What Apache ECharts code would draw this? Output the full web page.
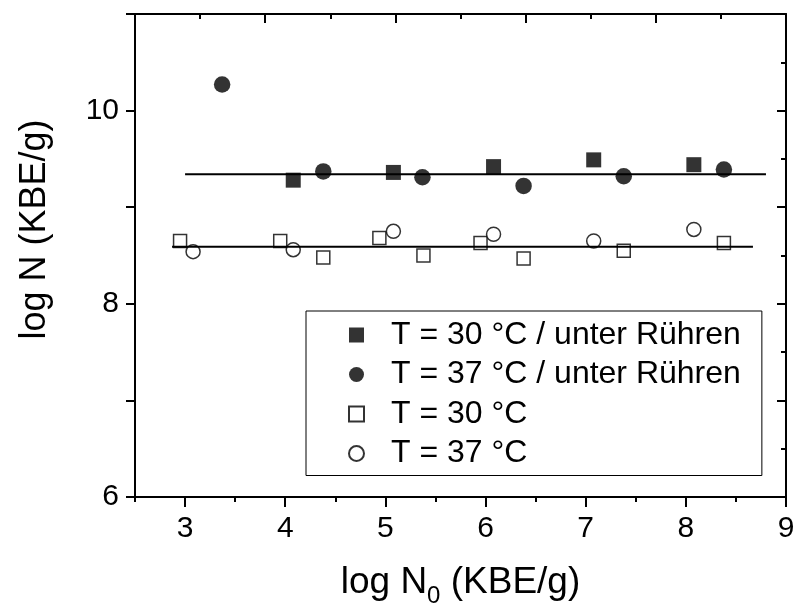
<!DOCTYPE html>
<html>
<head>
<meta charset="utf-8">
<script src="https://cdn.jsdelivr.net/npm/echarts@6/dist/echarts.min.js"></script>
<style>
  html, body { margin: 0; padding: 0; background: #fff; }
  #chart { width: 795px; height: 608px; }
</style>
</head>
<body>
<div id="chart"></div>
<script>
var FONT = "'Liberation Sans', Arial, sans-serif";

// T = 30 °C / unter Rühren (filled squares)
var stir30X = [4.08, 5.08, 6.08, 7.08, 8.08];
var stir30Y = [9.28, 9.36, 9.42, 9.49, 9.44];
// T = 37 °C / unter Rühren (filled circles)
var stir37X = [3.37, 4.38, 5.37, 6.38, 7.38, 8.38];
var stir37Y = [10.27, 9.37, 9.31, 9.22, 9.32, 9.39];
// T = 30 °C (open squares)
var plain30X = [2.95, 3.95, 4.38, 4.94, 5.38, 5.95, 6.38, 7.38, 8.38];
var plain30Y = [8.65, 8.65, 8.48, 8.68, 8.50, 8.63, 8.47, 8.55, 8.63];
// T = 37 °C (open circles)
var plain37X = [3.08, 4.08, 5.08, 6.08, 7.08, 8.08];
var plain37Y = [8.54, 8.56, 8.75, 8.72, 8.65, 8.77];

// mean lines
var meanStirX = [3.0, 8.8];
var meanStirY = [9.34, 9.34];
var meanPlainX = [2.87, 8.67];
var meanPlainY = [8.59, 8.59];

var seriesNames = ['T = 30 °C / unter Rühren', 'T = 37 °C / unter Rühren', 'T = 30 °C', 'T = 37 °C'];
var legendIcons = ['rect', 'circle', 'rect', 'circle'];
var xLabelValues = [3, 4, 5, 6, 7, 8, 9];
var yLabelValues = [6, 8, 10];

function pairs(xs, ys) {
	var out = [];
	for (var i = 0; i < xs.length; i++) {
		out.push([xs[i], ys[i]]);
	}
	return out;
}

var legendData = seriesNames.map(function (n, i) {
	return { name: n, icon: legendIcons[i] };
});

var myChart = echarts.init(document.getElementById('chart'));

var black = { color: '#000', width: 2 };
var openStyle = { color: '#fff', borderColor: '#000', borderWidth: 1.5 };

var option = {
	animation: false,
	backgroundColor: '#fff',
	grid: { left: 135, right: 9, top: 14, bottom: 111, outerBoundsMode: 'none' },
	legend: {
		orient: 'vertical',
		left: 306,
		top: 311,
		padding: [8, 21, 6, 42],
		itemGap: 7.5,
		itemWidth: 15,
		itemHeight: 15,
		borderColor: '#000',
		borderWidth: 1,
		textStyle: { fontSize: 32, color: '#000', fontFamily: FONT, lineHeight: 30, padding: [0, 0, 0, 22] },
		data: legendData
	},
	xAxis: [{
		type: 'value',
		position: 'bottom',
		min: 2.5,
		max: 9,
		interval: 0.5,
		axisLine: { onZero: false, lineStyle: black },
		axisTick: { length: 10, lineStyle: black, customValues: xLabelValues },
		axisLabel: { customValues: xLabelValues, fontSize: 30, color: '#000', fontFamily: FONT, margin: 17 },
		splitLine: { show: false },
		name: 'log N{sub|0} (KBE/g)',
		nameLocation: 'middle',
		nameGap: 61,
		nameTextStyle: {
			fontSize: 37, color: '#000', fontFamily: FONT,
			rich: { sub: { fontSize: 24, color: '#000', fontFamily: FONT, padding: [26, 0, 0, 0] } }
		}
	}, {
		type: 'value',
		position: 'bottom',
		min: 2.5,
		max: 9,
		interval: 0.5,
		axisLine: { show: false, onZero: false },
		axisTick: { length: 5, lineStyle: black },
		axisLabel: { show: false },
		splitLine: { show: false }
	}, {
		type: 'value',
		position: 'top',
		min: 0,
		max: 10,
		interval: 2,
		axisLine: { onZero: false, lineStyle: black },
		axisTick: { inside: true, length: 9, lineStyle: black },
		minorTick: { show: true, splitNumber: 2, length: 5, lineStyle: black },
		axisLabel: { show: false },
		splitLine: { show: false }
	}],
	yAxis: [{
		type: 'value',
		position: 'left',
		min: 6,
		max: 11,
		interval: 1,
		axisLine: { onZero: false, lineStyle: black },
		axisTick: { length: 9, lineStyle: black },
		axisLabel: { customValues: yLabelValues, fontSize: 30, color: '#000', fontFamily: FONT, margin: 16 },
		splitLine: { show: false },
		name: 'log N (KBE/g)',
		nameLocation: 'middle',
		nameRotate: 90,
		nameGap: 82,
		nameTextStyle: { fontSize: 36, color: '#000', fontFamily: FONT, padding: [0, 0, 0, 52] }
	}, {
		type: 'value',
		position: 'right',
		min: 6,
		max: 11,
		interval: 1,
		axisLine: { onZero: false, lineStyle: black },
		axisTick: { inside: true, length: 9, lineStyle: black },
		minorTick: { show: true, splitNumber: 2, length: 5, lineStyle: black },
		axisLabel: { show: false },
		splitLine: { show: false }
	}],
	series: [
		{
			name: seriesNames[0],
			type: 'scatter',
			symbol: 'rect',
			symbolSize: 15,
			itemStyle: { color: '#000' },
			data: pairs(stir30X, stir30Y)
		}, {
			name: seriesNames[1],
			type: 'scatter',
			symbol: 'circle',
			symbolSize: 16.5,
			itemStyle: { color: '#000' },
			data: pairs(stir37X, stir37Y)
		}, {
			name: seriesNames[2],
			type: 'scatter',
			symbol: 'rect',
			symbolSize: 13,
			itemStyle: openStyle,
			data: pairs(plain30X, plain30Y)
		}, {
			name: seriesNames[3],
			type: 'scatter',
			symbol: 'circle',
			symbolSize: 14,
			itemStyle: openStyle,
			data: pairs(plain37X, plain37Y)
		}, {
			type: 'line',
			symbol: 'none',
			silent: true,
			lineStyle: black,
			data: pairs(meanStirX, meanStirY)
		}, {
			type: 'line',
			symbol: 'none',
			silent: true,
			lineStyle: black,
			data: pairs(meanPlainX, meanPlainY)
		}
	]
};

myChart.setOption(option);
</script>
</body>
</html>
